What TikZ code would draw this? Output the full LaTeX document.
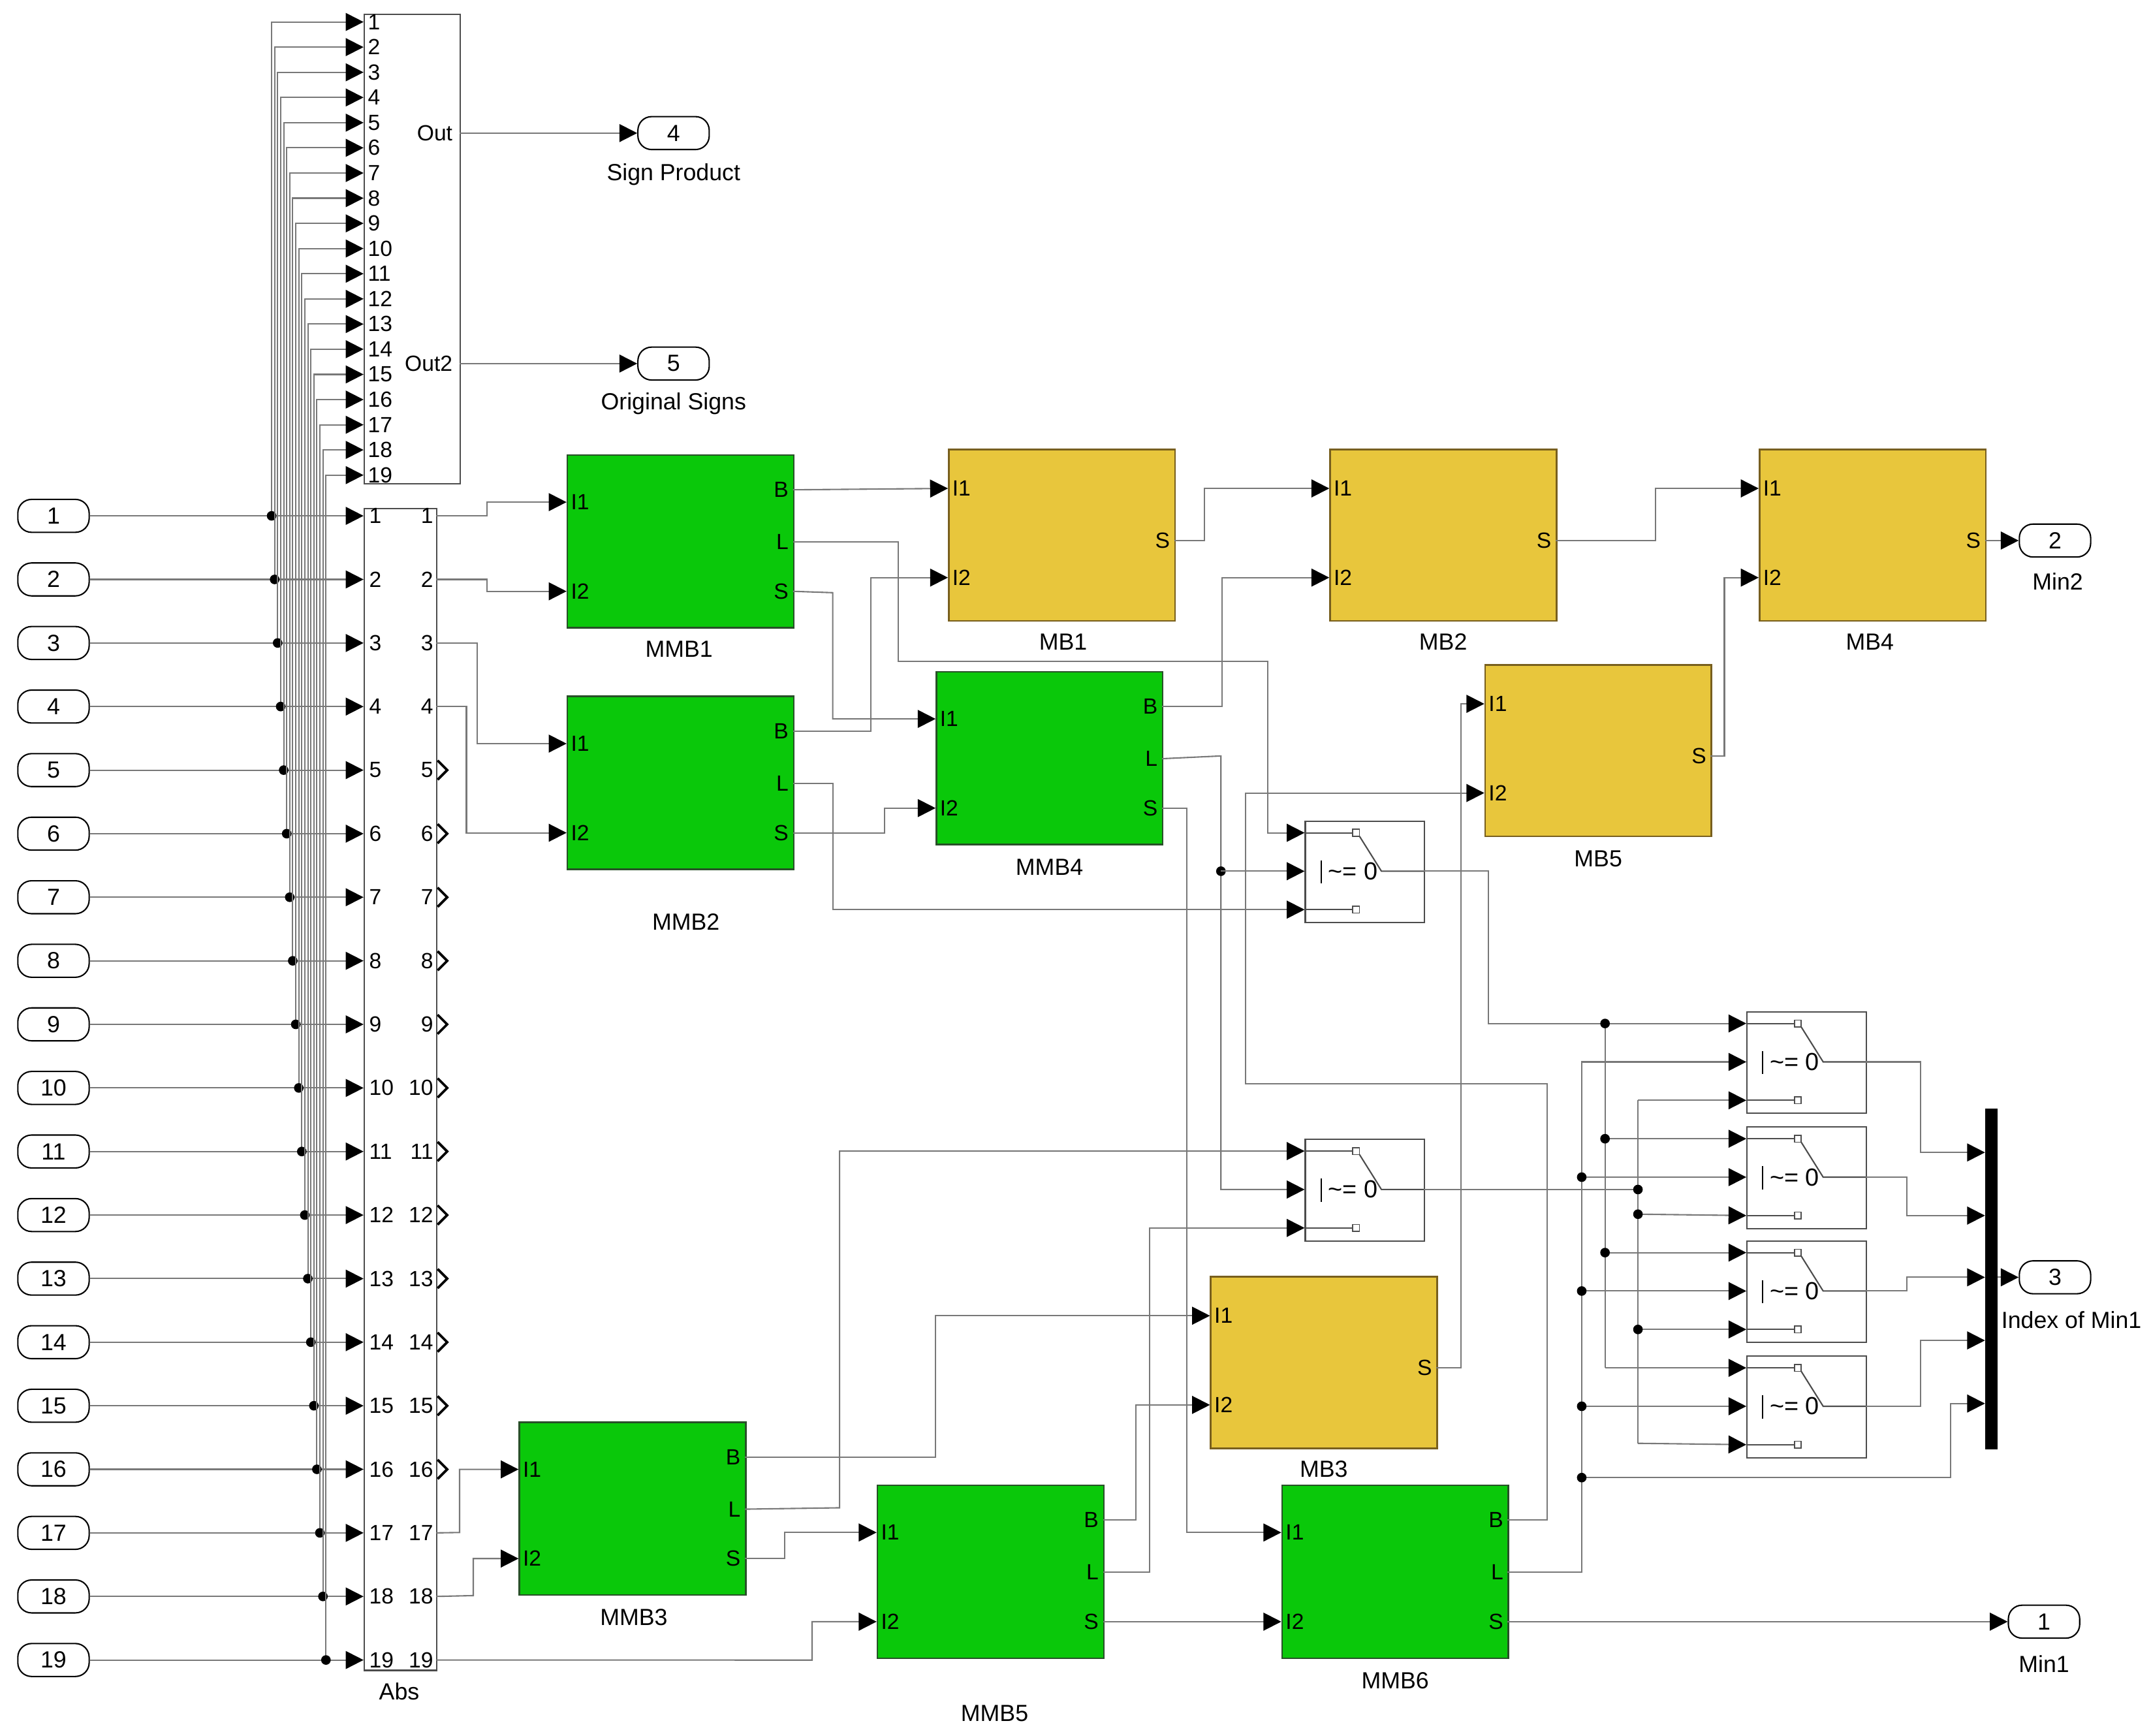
\documentclass[tikz,border=0pt]{standalone}
\usepackage{fontspec}
\setmainfont{Liberation Sans}
\usetikzlibrary{arrows.meta}
\definecolor{gfill}{RGB}{10,200,10}
\definecolor{gdraw}{RGB}{40,80,40}
\definecolor{yfill}{RGB}{232,198,60}
\definecolor{ydraw}{RGB}{120,95,30}
\definecolor{wcol}{RGB}{120,120,120}
\tikzset{
 wire/.style={draw=wcol,line width=1pt},
 arr/.style={wire,-{Triangle[length=13pt,width=13pt,color=black]}},
 inport/.style={draw=black,line width=1pt,rounded corners=10pt,minimum width=52pt,minimum height=24pt,inner sep=0pt,font=\fontsize{17}{17}\selectfont},
 plab/.style={font=\fontsize{16}{16}\selectfont,inner sep=1pt},
 blab/.style={font=\fontsize{17}{17}\selectfont,inner sep=1pt},
 gblk/.style={draw=gdraw,fill=gfill,line width=1.2pt,minimum width=165pt,minimum height=126pt,inner sep=0pt},
 yblk/.style={draw=ydraw,fill=yfill,line width=1.2pt,minimum width=165pt,minimum height=125pt,inner sep=0pt},
 swb/.style={draw=black!70,fill=white,line width=1pt,minimum width=87pt,minimum height=74pt,inner sep=0pt},
}
\newcommand\GB[3]{%
 \node[gblk,anchor=north west] (#1) at (#2,#3) {};
 \coordinate (#1-i1) at ({#2},{#3+35}); \coordinate (#1-i2) at ({#2},{#3+100});
 \coordinate (#1-b) at ({#2+165},{#3+26}); \coordinate (#1-l) at ({#2+165},{#3+64}); \coordinate (#1-s) at ({#2+165},{#3+100});
 \node[plab,anchor=west] at ({#2+2},{#3+35}) {I1}; \node[plab,anchor=west] at ({#2+2},{#3+100}) {I2};
 \node[plab,anchor=east] at ({#2+163},{#3+26}) {B}; \node[plab,anchor=east] at ({#2+163},{#3+64}) {L}; \node[plab,anchor=east] at ({#2+163},{#3+100}) {S};}
\newcommand\YB[3]{%
 \node[yblk,anchor=north west] (#1) at (#2,#3) {};
 \coordinate (#1-i1) at ({#2},{#3+29}); \coordinate (#1-i2) at ({#2},{#3+94});
 \coordinate (#1-s) at ({#2+165},{#3+67});
 \node[plab,anchor=west] at ({#2+2},{#3+29}) {I1}; \node[plab,anchor=west] at ({#2+2},{#3+94}) {I2};
 \node[plab,anchor=east] at ({#2+163},{#3+67}) {S};}
\newcommand\SW[3]{%
 \node[swb,anchor=north west] (#1) at (#2,#3) {};
 \coordinate (#1-i1) at ({#2},{#3+9}); \coordinate (#1-i2) at ({#2},{#3+37}); \coordinate (#1-i3) at ({#2},{#3+65});
 \coordinate (#1-o) at ({#2+87},{#3+37});
 \draw[black!70,line width=1pt] ({#2},{#3+9}) -- ({#2+35},{#3+9}) ({#2},{#3+65}) -- ({#2+35},{#3+65});
 \draw[black!70,line width=0.8pt,fill=white] ({#2+35},{#3+6.5}) rectangle ({#2+40},{#3+11.5}) ({#2+35},{#3+62.5}) rectangle ({#2+40},{#3+67.5});
 \draw[black!70,line width=1pt] ({#2+40},{#3+11.5}) -- ({#2+56},{#3+37}) -- ({#2+87},{#3+37});
 \draw[black,line width=1pt] ({#2+12},{#3+29}) -- ({#2+12},{#3+46});
 \node[anchor=west,inner sep=1pt,font=\fontsize{18}{18}\selectfont] at ({#2+16},{#3+37}) {\textasciitilde= 0};}
\begin{document}
\begin{tikzpicture}[x=1pt,y=-1pt]
\useasboundingbox[fill=white] (0,0) rectangle (1568,1265);
\node[draw=black!70,line width=1pt,fill=white,minimum width=70pt,minimum height=342pt,anchor=north west,inner sep=0pt] (sgn) at (265,10) {};
\node[draw=black!70,line width=1pt,fill=white,minimum width=53pt,minimum height=847pt,anchor=north west,inner sep=0pt] (abs) at (265,370) {};
\node[blab] at (291,1233) {Abs};
\node[plab,anchor=east] at (331,97) {Out};
\node[plab,anchor=east] at (331,265) {Out2};
\foreach \i in {1,...,19}{
 \pgfmathsetmacro\y{376+(\i-1)*46.33}
 \pgfmathsetmacro\d{198+(\i-1)*2.2}
 \pgfmathsetmacro\s{16+(\i-1)*18.35}
 \node[inport] (in\i) at (39,\y) {\i};
 \coordinate (ai\i) at (265,\y);
 \coordinate (ao\i) at (318,\y);
 \coordinate (si\i) at (265,\s);
 \coordinate (dt\i) at (\d,\y);
 \draw[arr] (in\i) -- (ai\i);
 \draw[arr] (dt\i) |- (si\i);
 \fill (dt\i) circle (3.5pt);
 \node[plab,anchor=west] at (268,\y) {\i};
 \node[plab,anchor=east] at (317,\y) {\i};
 \node[plab,anchor=west] at (267,\s) {\i};
}
\foreach \i in {5,...,16}{
 \pgfmathsetmacro\y{376+(\i-1)*46.33}
 \draw[black,line width=1.8pt] (319,\y-7) -- (326,\y) -- (319,\y+7);
}
\node[inport] (out4) at (491,97) {4};
\node[blab] at (491,127) {Sign Product};
\node[inport] (out5) at (491,265) {5};
\node[blab] at (491,294) {Original Signs};
\node[inport] (out2) at (1498,394) {2};
\node[blab] at (1500,424) {Min2};
\node[inport] (out3) at (1498,931) {3};
\node[blab] at (1510,962) {Index of Min1};
\node[inport] (out1) at (1490,1182) {1};
\node[blab] at (1490,1213) {Min1};
\coordinate (sgo1) at (335,97); \coordinate (sgo2) at (335,265);
\draw[arr] (sgo1) -- (out4);
\draw[arr] (sgo2) -- (out5);
\GB{mmb1}{413}{331} \node[blab] at (495,473) {MMB1};
\GB{mmb2}{413}{507} \node[blab] at (500,672) {MMB2};
\GB{mmb4}{682}{489} \node[blab] at (765,632) {MMB4};
\GB{mmb3}{378}{1036} \node[blab] at (462,1179) {MMB3};
\GB{mmb5}{639}{1082} \node[blab] at (725,1249) {MMB5};
\GB{mmb6}{934}{1082} \node[blab] at (1017,1225) {MMB6};
\YB{mb1}{691}{327} \node[blab] at (775,468) {MB1};
\YB{mb2}{969}{327} \node[blab] at (1052,468) {MB2};
\YB{mb4}{1282}{327} \node[blab] at (1363,468) {MB4};
\YB{mb5}{1082}{484} \node[blab] at (1165,626) {MB5};
\YB{mb3}{882}{930} \node[blab] at (965,1071) {MB3};
\SW{swA}{951}{598}
\SW{swB}{951}{830}
\SW{sw1}{1273}{737}
\SW{sw2}{1273}{821}
\SW{sw3}{1273}{904}
\SW{sw4}{1273}{988}
\node[fill=black,minimum width=9pt,minimum height=248pt,inner sep=0pt,anchor=north west] (mux) at (1447,808) {};
\foreach \k/\yy in {1/840,2/886,3/931,4/977,5/1023}{\coordinate (mx\k) at (1447,\yy);}
\coordinate (mxo) at (1456,931);
\draw[arr] (mxo) -- (out3);
\draw[arr] (ao1) -- ++(37,0) |- (mmb1-i1);
\draw[arr] (ao2) -- ++(37,0) |- (mmb1-i2);
\draw[arr] (ao3) -- ++(30,0) |- (mmb2-i1);
\draw[arr] (ao4) -- ++(22,0) |- (mmb2-i2);
\draw[arr] (mmb1-b) -- (mb1-i1);
\draw[arr] (mmb1-l) -| (655,482) -| (924,607) -- (swA-i1);
\draw[arr] (mmb1-s) -- (607,432) |- (mmb4-i1);
\draw[arr] (mmb2-b) -- (635,533) |- (mb1-i2);
\draw[arr] (mmb2-l) -- (607,571) |- (swA-i3);
\draw[arr] (mmb2-s) -- (645,607) |- (mmb4-i2);
\draw[arr] (mb1-s) -- (878,394) |- (mb2-i1);
\draw[arr] (mmb4-b) -- (891,515) |- (mb2-i2);
\draw[arr] (mmb4-l) -- (890,551) |- (swB-i2);
\coordinate (jA) at (890,635); \fill (jA) circle (3.5pt);
\draw[arr] (jA) -- (swA-i2);
\draw[arr] (mmb4-s) -- (865,589) |- (mmb6-i1);
\draw[arr] (mb2-s) -- (1207,394) |- (mb4-i1);
\draw[arr] (mb5-s) -- (1257,551) |- (mb4-i2);
\draw[arr] (mb4-s) -- (out2);
\draw[arr] (mb3-s) -- (1065,997) |- (mb5-i1);
\draw[arr] (mmb6-b) -- (1128,1108) -- (1128,790) -- (908,790) |- (mb5-i2);
\draw[arr] (mmb3-l) -- (612,1099) |- (swB-i1);
\draw[arr] (mmb5-l) -- (838,1146) |- (swB-i3);
\draw[arr] (mmb3-b) -- (682,1062) |- (mb3-i1);
\draw[arr] (mmb5-b) -- (828,1108) |- (mb3-i2);
\draw[arr] (ao17) -- (335,1117) |- (mmb3-i1);
\draw[arr] (ao18) -- (345,1163) |- (mmb3-i2);
\draw[arr] (ao19) -- (592,1210) |- (mmb5-i2);
\draw[arr] (mmb3-s) -- (572,1136) |- (mmb5-i1);
\draw[arr] (mmb5-s) -- (mmb6-i2);
\draw[arr] (mmb6-s) -- (out1);
\draw[arr] (swA-o) -- (1085,635) |- (sw1-i1);
\draw[wire] (1170,746) -- (1170,997);
\draw[arr] (1170,830) -- (sw2-i1);
\draw[arr] (1170,913) -- (sw3-i1);
\draw[arr] (1170,997) -- (sw4-i1);
\foreach \yy in {746,830,913}{\fill (1170,\yy) circle (3.5pt);}
\draw[wire] (swB-o) -- (1194,867);
\draw[wire] (1194,802) -- (1194,1052);
\draw[arr] (1194,802) -- (sw1-i3);
\draw[arr] (1194,885) -- (sw2-i3);
\draw[arr] (1194,969) -- (sw3-i3);
\draw[arr] (1194,1052) -- (sw4-i3);
\foreach \yy in {867,885,969}{\fill (1194,\yy) circle (3.5pt);}
\draw[arr] (mmb6-l) -- (1153,1146) -- (1153,774) -- (sw1-i2);
\draw[arr] (1153,858) -- (sw2-i2);
\draw[arr] (1153,941) -- (sw3-i2);
\draw[arr] (1153,1025) -- (sw4-i2);
\draw[arr] (1153,1077) -- (1422,1077) |- (mx5);
\foreach \yy in {858,941,1025,1077}{\fill (1153,\yy) circle (3.5pt);}
\draw[arr] (sw1-o) -- (1400,774) |- (mx1);
\draw[arr] (sw2-o) -- (1390,858) |- (mx2);
\draw[arr] (sw3-o) -- (1390,941) |- (mx3);
\draw[arr] (sw4-o) -- (1400,1025) |- (mx4);
\end{tikzpicture}
\end{document}
